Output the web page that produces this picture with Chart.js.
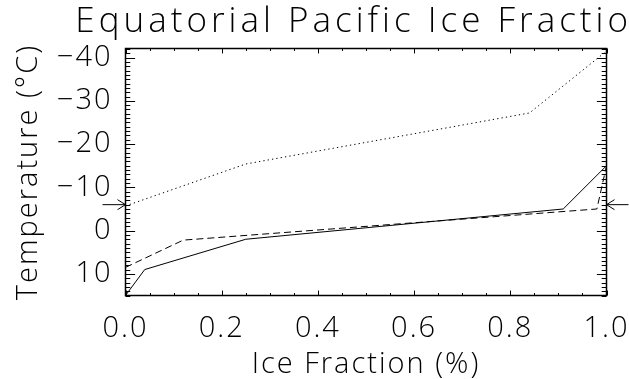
<!DOCTYPE html>
<html>
<head>
<meta charset="utf-8">
<script src="https://cdn.jsdelivr.net/npm/chart.js@4.4.1/dist/chart.umd.min.js"></script>
<style>
  html, body { margin: 0; padding: 0; background: #fff; overflow: hidden; }
  #wrap { width: 629px; height: 379px; }
</style>
</head>
<body>
<div id="wrap"><canvas id="c" width="629" height="379"></canvas></div>
<script>
// values: ice fraction (0..1) vs temperature (C)
const solidFrac = [0, 0.04, 0.25, 0.91, 1.0];
const solidTemp = [15, 9, 2, -5, -15];
const dashedFrac = [0, 0.12, 0.98, 1.0];
const dashedTemp = [8.5, 2.2, -5, -15];
const dottedFrac = [0, 0.25, 0.84, 1.0];
const dottedTemp = [-5.7, -15.4, -27.2, -41.5];

// the two arrows on the side axes
const markerTemp = -6;

const xTickLabels = ['0.0', '0.2', '0.4', '0.6', '0.8', '1.0'];
const yTickLabels = [-40, -30, -20, -10, 0, 10];
const xRange = [0, 1];
const yRange = [-42.1, 15];
const xMinorStep = 0.05;
const yMinorStep = 1;

const TITLE = 'Equatorial Pacific Ice Fraction';
const XTITLE = 'Ice Fraction (%)';
const YTITLE = 'Temperature (°C)';

const FAMILY = '"Open Sans", "DejaVu Sans", sans-serif';
const INK = '#000';

function pts(xs, ys) {
  return xs.map((x, i) => ({x, y: ys[i]}));
}

function minorValues(lo, hi, step) {
  const out = [];
  const n = Math.round((hi - lo) / step);
  for (let i = 0; i <= n; i++) out.push(+(lo + i * step).toFixed(4));
  return out;
}

const xTicks = minorValues(xRange[0], xRange[1], xMinorStep);
const yTicks = minorValues(Math.ceil(yRange[0]), Math.floor(yRange[1]), yMinorStep);

function xLabel(v) {
  const s = v.toFixed(1);
  return xTickLabels.includes(s) && Math.abs(v - +s) < 1e-6 ? s : '';
}
function yLabel(v) {
  return yTickLabels.includes(v) ? String(v).replace('-', '\u2212') : '';
}

// frame, inward ticks on all four sides, arrows and the title
const framePlugin = {
  id: 'frame',
  beforeUpdate(chart) { chart.ctx.letterSpacing = '2px'; },
  beforeDraw(chart) { chart.ctx.letterSpacing = '2px'; },
  afterDraw(chart) {
    const {ctx, chartArea: a, scales: {x, y}} = chart;
    ctx.save();
    ctx.strokeStyle = INK;
    ctx.lineWidth = 1;
    const xLen = (a.bottom - a.top) * 0.02, yLen = (a.right - a.left) * 0.02;
    ctx.beginPath();
    x.ticks.forEach(t => {
      const px = Math.round(x.getPixelForValue(t.value)) + 0.5;
      const len = xLabel(t.value) ? xLen : xLen / 2;
      ctx.moveTo(px, a.bottom); ctx.lineTo(px, a.bottom - len);
      ctx.moveTo(px, a.top); ctx.lineTo(px, a.top + len);
    });
    y.ticks.forEach(t => {
      const py = Math.round(y.getPixelForValue(t.value)) + 0.5;
      const len = yLabel(t.value) ? yLen : yLen / 2;
      ctx.moveTo(a.left, py); ctx.lineTo(a.left + len, py);
      ctx.moveTo(a.right, py); ctx.lineTo(a.right - len, py);
    });
    ctx.stroke();

    ctx.lineWidth = 1.5;
    ctx.strokeRect(a.left, a.top, a.right - a.left, a.bottom - a.top);

    // arrows at markerTemp
    const my = y.getPixelForValue(markerTemp);
    ctx.lineWidth = 1;
    ctx.beginPath();
    ctx.moveTo(a.left - 23, my); ctx.lineTo(a.left, my);
    ctx.moveTo(a.left - 8, my - 5); ctx.lineTo(a.left, my); ctx.lineTo(a.left - 8, my + 5);
    ctx.moveTo(a.right + 22, my); ctx.lineTo(a.right, my);
    ctx.moveTo(a.right + 8, my - 5); ctx.lineTo(a.right, my); ctx.lineTo(a.right + 8, my + 5);
    ctx.stroke();

    // title centred over the plot, clipped by the canvas edge
    ctx.fillStyle = INK;
    ctx.font = '300 35px ' + FAMILY;
    ctx.letterSpacing = '4px';
    ctx.textAlign = 'center';
    ctx.textBaseline = 'alphabetic';
    ctx.fillText(TITLE, (a.left + a.right) / 2, 32);
    ctx.restore();
  }
};

const lineBase = {
  borderColor: INK,
  borderWidth: 1,
  pointRadius: 0,
  showLine: true,
  fill: false,
  tension: 0
};

new Chart(document.getElementById('c'), {
  type: 'scatter',
  data: {
    datasets: [
      Object.assign({label: 'solid', data: pts(solidFrac, solidTemp)}, lineBase),
      Object.assign({label: 'dashed', data: pts(dashedFrac, dashedTemp), borderDash: [7, 4]}, lineBase),
      Object.assign({label: 'dotted', data: pts(dottedFrac, dottedTemp), borderDash: [1.3, 3.1]}, lineBase)
    ]
  },
  options: {
    responsive: false,
    animation: false,
    events: [],
    layout: {padding: {top: 48.5, right: 22.5, left: 0, bottom: 0}},
    plugins: {
      legend: {display: false},
      tooltip: {enabled: false},
      title: {display: false}
    },
    elements: {line: {borderCapStyle: 'butt'}},
    scales: {
      x: {
        type: 'linear',
        min: xRange[0],
        max: xRange[1],
        afterBuildTicks: s => { s.ticks = xTicks.map(v => ({value: v})); },
        afterFit: s => { s.height = 83.5; s.paddingLeft = 0; s.paddingRight = 0; },
        grid: {display: false, drawTicks: false},
        border: {display: false},
        ticks: {
          autoSkip: false,
          maxRotation: 0,
          padding: 16,
          color: INK,
          font: {family: FAMILY, size: 29, weight: '300'},
          callback: v => xLabel(v)
        },
        title: {
          display: true,
          text: XTITLE,
          color: INK,
          font: {family: FAMILY, size: 29, weight: '300', lineHeight: 1},
          padding: {top: 0, bottom: 0}
        }
      },
      y: {
        type: 'linear',
        reverse: true,
        min: yRange[0],
        max: yRange[1],
        afterBuildTicks: s => { s.ticks = yTicks.map(v => ({value: v})); },
        afterFit: s => { s.width = 125.5; s.paddingTop = 0; s.paddingBottom = 0; },
        grid: {display: false, drawTicks: false},
        border: {display: false},
        ticks: {
          autoSkip: false,
          padding: 13,
          color: INK,
          font: {family: FAMILY, size: 29, weight: '300'},
          callback: v => yLabel(v)
        },
        title: {
          display: true,
          text: YTITLE,
          color: INK,
          font: {family: FAMILY, size: 29, weight: '300', lineHeight: 1},
          padding: {top: 14, bottom: 0}
        }
      }
    }
  },
  plugins: [framePlugin]
});
</script>
</body>
</html>
